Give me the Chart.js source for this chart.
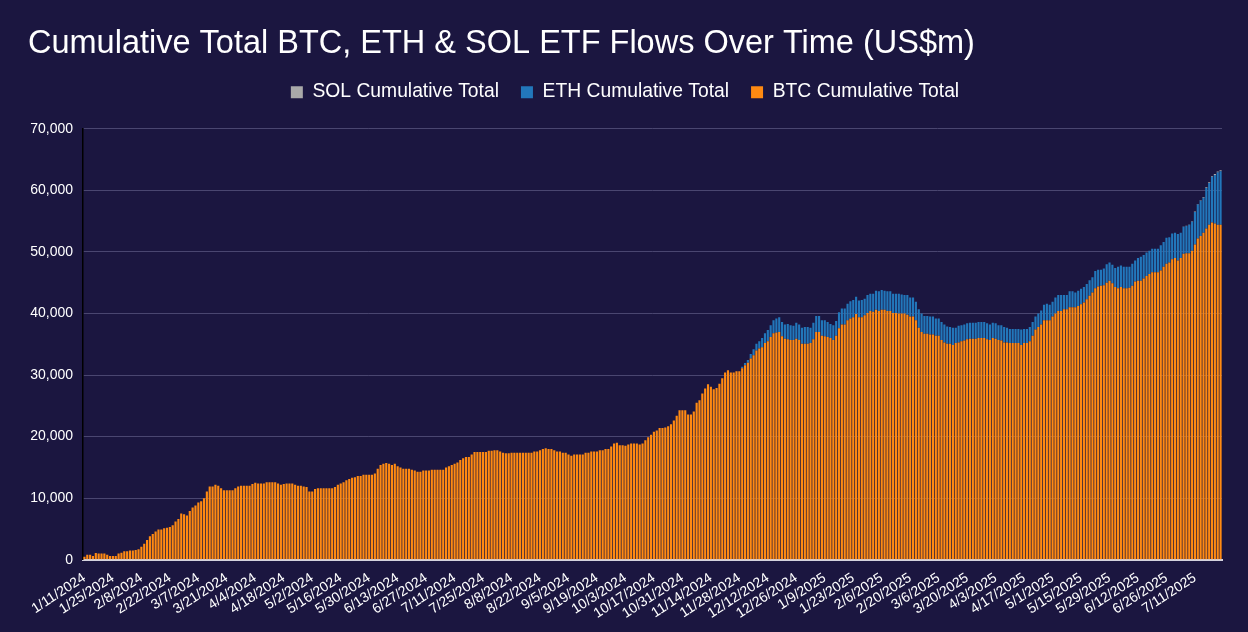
<!DOCTYPE html>
<html>
<head>
<meta charset="utf-8">
<script src="https://cdn.jsdelivr.net/npm/chart.js"></script>
<style>
  html, body { margin: 0; padding: 0; background: #1b1640; }
  #wrap { width: 1248px; height: 632px; }
</style>
</head>
<body>
<div id="wrap"><canvas id="flows"></canvas></div>
<script>
// trading days start here; 7/4/2025 is missing from the source data
const firstDay = "2024-01-11";
const skippedDays = ["2025-07-04"];
const tickEvery = 10;
const yTicks = [0, 10000, 20000, 30000, 40000, 50000, 60000, 70000];

// cumulative totals, US$m, one value per trading day
const btcTotal = [
  500, 800, 800, 600, 1100, 1000, 1000, 1000, 800, 600,
  600, 600, 1000, 1150, 1400, 1400, 1500, 1500, 1600, 1700,
  2100, 2600, 3200, 3800, 4200, 4600, 4900, 4900, 5100, 5200,
  5300, 5600, 6200, 6600, 7500, 7400, 7200, 7900, 8500, 8800,
  9300, 9500, 10000, 11100, 11900, 11900, 12200, 12000, 11600, 11300,
  11300, 11300, 11300, 11600, 11900, 12000, 12000, 12000, 12000, 12300,
  12500, 12400, 12400, 12400, 12600, 12600, 12600, 12600, 12400, 12200,
  12300, 12400, 12400, 12400, 12200, 12000, 12000, 11900, 11800, 11100,
  11100, 11500, 11600, 11600, 11600, 11600, 11600, 11600, 11800, 12200,
  12400, 12600, 12900, 13100, 13300, 13400, 13600, 13600, 13800, 13800,
  13800, 13800, 14000, 14800, 15400, 15600, 15700, 15600, 15400, 15600,
  15200, 15000, 14800, 14800, 14800, 14600, 14500, 14300, 14300, 14500,
  14500, 14500, 14600, 14600, 14600, 14600, 14600, 15000, 15200, 15400,
  15600, 15800, 16200, 16500, 16700, 16700, 17100, 17500, 17500, 17500,
  17500, 17500, 17700, 17700, 17800, 17800, 17600, 17400, 17300, 17300,
  17400, 17400, 17400, 17400, 17400, 17400, 17400, 17400, 17600, 17600,
  17800, 18000, 18100, 18000, 18000, 17800, 17600, 17600, 17400, 17400,
  17100, 16900, 17100, 17100, 17100, 17100, 17400, 17400, 17600, 17600,
  17600, 17800, 17800, 18000, 18000, 18400, 18900, 19000, 18600, 18600,
  18500, 18700, 18900, 18900, 18900, 18700, 18900, 19400, 19900, 20300,
  20800, 21000, 21400, 21400, 21500, 21700, 22000, 22600, 23400, 24300,
  24300, 24300, 23600, 23600, 24100, 25500, 25900, 27000, 27800, 28500,
  28100, 27700, 27900, 28600, 29500, 30400, 30800, 30400, 30400, 30600,
  30600, 31100, 31600, 32000, 32700, 33200, 34000, 34300, 34500, 35200,
  35500, 36200, 36800, 36900, 37000, 36300, 35900, 35800, 35700, 35700,
  35900, 35700, 35100, 35100, 35100, 35200, 35800, 37000, 37000, 36400,
  36300, 36200, 36000, 35700, 36400, 37600, 38200, 38200, 38900, 39200,
  39400, 39900, 39400, 39400, 39700, 40100, 40400, 40300, 40600, 40400,
  40600, 40600, 40400, 40400, 40100, 40100, 40000, 40000, 40000, 39800,
  39500, 39500, 38900, 37700, 37000, 36700, 36700, 36600, 36600, 36400,
  36400, 35700, 35300, 35100, 35100, 34900, 35200, 35300, 35500, 35600,
  35800, 35900, 35900, 35900, 36000, 36000, 36000, 35800, 35700, 36000,
  35900, 35700, 35600, 35300, 35300, 35200, 35200, 35200, 35200, 34900,
  35200, 35200, 35500, 36400, 37400, 37800, 38200, 38900, 38900, 38900,
  39500, 40000, 40400, 40400, 40700, 40700, 41000, 41000, 41000, 41200,
  41500, 41800, 42300, 42900, 43400, 44100, 44400, 44500, 44600, 45000,
  45300, 44900, 44300, 44100, 44300, 44100, 44100, 44200, 44500, 45200,
  45300, 45300, 45700, 46100, 46400, 46700, 46700, 46700, 47000, 47600,
  48100, 48300, 48800, 49000, 48600, 49000, 49700, 49800, 49800, 50200,
  51200, 52200, 52600, 53100, 53800, 54400, 54800, 54600, 54400, 54400
];

// ETH shows from 11/29/2024 (day 231)
const ethStart = 231;
const ethTotal = [
  250, 350, 450, 700, 1000, 1100, 1200, 1500, 1600,
  1800, 1900, 2100, 2300, 2400, 2300, 2300, 2500, 2400, 2300,
  2600, 2500, 2600, 2700, 2700, 2500, 2700, 2600, 2600, 2500,
  2600, 2400, 2300, 2400, 2400, 2600, 2600, 2600, 2700, 2800,
  2800, 2800, 2700, 2800, 2700, 2900, 2800, 2900, 3100, 3200,
  3200, 3100, 3200, 3200, 3100, 3100, 3200, 3100, 3000, 3200,
  3100, 3100, 3000, 3000, 3000, 2900, 2900, 2900, 2900, 2800,
  2800, 2900, 2900, 2800, 2700, 2800, 2500, 2700, 2600, 2600,
  2600, 2600, 2600, 2600, 2600, 2600, 2600, 2600, 2500, 2500,
  2500, 2400, 2500, 2500, 2400, 2300, 2300, 2300, 2300, 2500,
  2300, 2300, 2300, 2200, 2100, 2200, 2300, 2500, 2700, 2500,
  2400, 2600, 2600, 2600, 2300, 2300, 2600, 2600, 2400, 2500,
  2500, 2500, 2500, 2500, 2500, 2800, 2700, 2600, 2700, 3000,
  3000, 3000, 3100, 3500, 3500, 3500, 3500, 3400, 3600, 3400,
  3700, 3900, 3800, 3800, 3800, 3800, 3800, 3800, 4100, 4000,
  4200, 4100, 4200, 4100, 4300, 4100, 4400, 4400, 4600, 4700,
  5300, 5500, 5700, 5700, 6600, 6800, 7400, 7900, 8500, 8700
];

// SOL shows from 7/2/2025 (day 384)
const solStart = 384;
const solTotal = [12, 21, 30, 44, 56, 63, 78, 90, 97, 108, 118, 131, 139, 147, 158, 170];

function tradingDays(start, count, skip) {
  const out = [];
  const d = new Date(start + "T00:00:00Z");
  while (out.length < count) {
    const wd = d.getUTCDay();
    const iso = d.toISOString().slice(0, 10);
    if (wd !== 0 && wd !== 6 && !skip.includes(iso)) {
      out.push((d.getUTCMonth() + 1) + "/" + d.getUTCDate() + "/" + d.getUTCFullYear());
    }
    d.setUTCDate(d.getUTCDate() + 1);
  }
  return out;
}

function fromDay(values, start, len) {
  return Array(start).fill(null).concat(values).slice(0, len);
}

const labels = tradingDays(firstDay, btcTotal.length, skippedDays);
const font = "'Liberation Sans', Arial, Helvetica, sans-serif";

// extra room under the legend
const legendGap = {
  id: "legendGap",
  beforeInit(chart) {
    const fit = chart.legend.fit;
    chart.legend.fit = function () {
      fit.call(this);
      this.height += 17;
    };
  }
};

const barStyle = { barPercentage: 0.75, categoryPercentage: 1, borderWidth: 0 };

new Chart(document.getElementById("flows"), {
  type: "bar",
  data: {
    labels,
    datasets: [
      { label: "BTC Cumulative Total", data: btcTotal, backgroundColor: "#ff8a12", ...barStyle },
      { label: "ETH Cumulative Total", data: fromDay(ethTotal, ethStart, labels.length), backgroundColor: "#2277bb", ...barStyle },
      { label: "SOL Cumulative Total", data: fromDay(solTotal, solStart, labels.length), backgroundColor: "#a9a9a9", ...barStyle }
    ]
  },
  plugins: [legendGap],
  options: {
    responsive: true,
    maintainAspectRatio: false,
    animation: false,
    layout: { padding: { left: 28, right: 26, top: 10, bottom: 8 } },
    plugins: {
      title: {
        display: true,
        text: "Cumulative Total BTC, ETH & SOL ETF Flows Over Time (US$m)",
        align: "start",
        color: "#ffffff",
        font: { family: font, size: 32.5, weight: "normal", lineHeight: 1 },
        padding: { top: 18, bottom: 0 }
      },
      legend: {
        position: "top",
        reverse: true,
        labels: {
          color: "#ffffff",
          boxWidth: 12,
          boxHeight: 12,
          padding: 22,
          font: { family: font, size: 19.3 }
        }
      },
      tooltip: { enabled: false }
    },
    scales: {
      x: {
        stacked: true,
        grid: { display: false },
        border: { color: "#d4d2de", width: 2 },
        ticks: {
          color: "#ffffff",
          font: { family: font, size: 14 },
          autoSkip: false,
          minRotation: 33,
          maxRotation: 33,
          padding: 2,
          callback(value, index) {
            return index % tickEvery === 0 ? this.getLabelForValue(value) : null;
          }
        }
      },
      y: {
        stacked: true,
        min: yTicks[0],
        max: yTicks[yTicks.length - 1],
        afterBuildTicks(scale) {
          scale.ticks = yTicks.map(v => ({ value: v }));
        },
        afterFit(scale) {
          scale.width = 55;
        },
        grid: { color: "#4a4670", drawTicks: false },
        border: { color: "#000000", width: 1.5 },
        ticks: {
          color: "#ffffff",
          font: { family: font, size: 14 },
          padding: 10,
          callback: v => v.toLocaleString("en-US")
        }
      }
    }
  }
});
</script>
</body>
</html>
